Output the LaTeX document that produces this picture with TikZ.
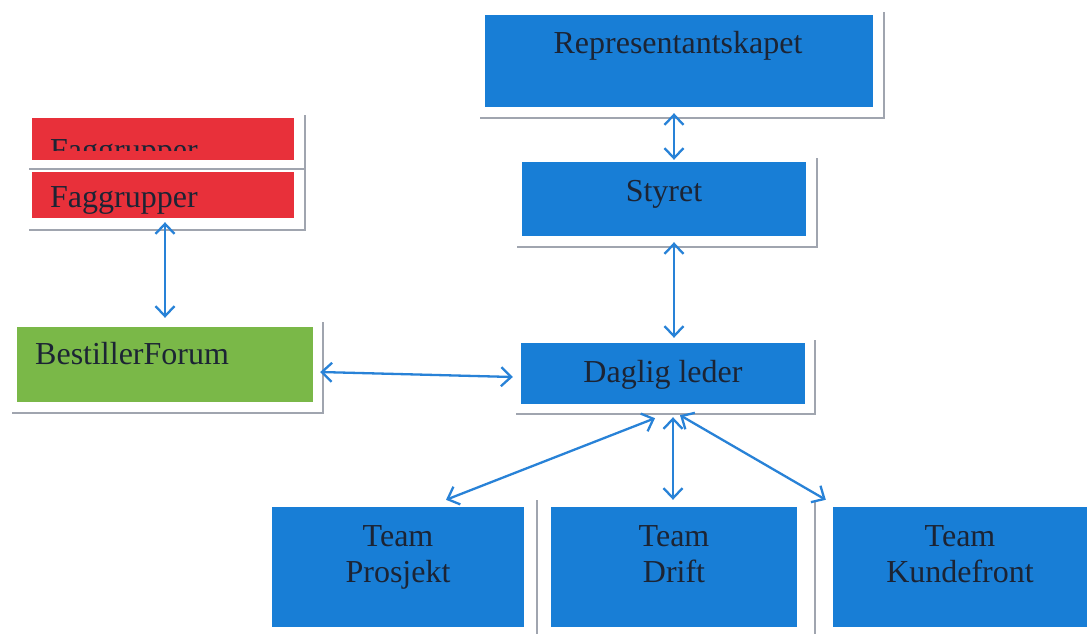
\documentclass[tikz,border=0pt]{standalone}
\usepackage{fontspec}
\setmainfont{Liberation Serif}
\usetikzlibrary{arrows.meta}
\definecolor{boxblue}{RGB}{24,126,214}
\definecolor{boxred}{RGB}{232,48,58}
\definecolor{boxgreen}{RGB}{122,184,72}
\definecolor{arrowblue}{RGB}{40,130,215}
\definecolor{txt}{RGB}{28,36,52}
\definecolor{shadowgray}{RGB}{160,165,175}
\begin{document}
\begin{tikzpicture}[x=1pt,y=-1pt,
  box/.style={rectangle, draw=none, inner sep=0pt},
  lbl/.style={text=txt, font=\fontsize{32}{36}\selectfont, inner sep=0pt, align=center},
  link/.style={draw=arrowblue, line width=2.3pt, {Straight Barb[length=10pt,width=19pt]}-{Straight Barb[length=10pt,width=19pt]}},
  shadowline/.style={draw=shadowgray, line width=1.5pt}]
\useasboundingbox[fill=white] (0,0) rectangle (1087,634);

% shadows
\draw[shadowline] (480,118) -- (884,118) -- (884,12);
\draw[shadowline] (517,247) -- (817,247) -- (817,158);
\draw[shadowline] (516,414) -- (815,414) -- (815,340);
\draw[shadowline] (537,500) -- (537,634);
\draw[shadowline] (815,500) -- (815,634);
\draw[shadowline] (29,169) -- (305,169);
\draw[shadowline] (29,230) -- (305,230) -- (305,115);
\draw[shadowline] (12,413) -- (323,413) -- (323,322);

% boxes
\node[box, fill=boxblue, minimum width=388pt, minimum height=92pt] (repr) at (679,61) {};
\node[box, fill=boxblue, minimum width=284pt, minimum height=74pt] (styret) at (664,199) {};
\node[box, fill=boxblue, minimum width=284pt, minimum height=61pt] (daglig) at (663,373.5) {};
\node[box, fill=boxblue, minimum width=252pt, minimum height=120pt] (teamP) at (398,567) {};
\node[box, fill=boxblue, minimum width=246pt, minimum height=120pt] (teamD) at (674,567) {};
\node[box, fill=boxblue, minimum width=254pt, minimum height=120pt] (teamK) at (960,567) {};
\node[box, fill=boxred, minimum width=262pt, minimum height=42pt] (fag1) at (163,139) {};
\node[box, fill=boxred, minimum width=262pt, minimum height=46pt] (fag2) at (163,195) {};
\node[box, fill=boxgreen, minimum width=296pt, minimum height=75pt] (best) at (165,364.5) {};

% labels
\node[lbl, anchor=base] (reprT) at (678,54) {Representantskapet};
\node[lbl, anchor=base] (styretT) at (664,201) {Styret};
\node[lbl, anchor=base] (dagligT) at (663,382) {Daglig leder};
\node[lbl, anchor=north] (teamPT) at (398,525) {Team\\Prosjekt};
\node[lbl, anchor=north] (teamDT) at (674,525) {Team\\Drift};
\node[lbl, anchor=north] (teamKT) at (960,525) {Team\\Kundefront};
\begin{scope}
  \clip (32,118) rectangle (294,150);
  \node[lbl, anchor=base west] (fag1T) at (50,160) {Faggrupper};
\end{scope}
\node[lbl, anchor=base west] (fag2T) at (50,207) {Faggrupper};
\node[lbl, anchor=base west] (bestT) at (35,364) {BestillerForum};

% connectors
\draw[link] ([xshift=-5pt,yshift=-6pt]repr.south) -- ([xshift=10pt,yshift=2pt]styret.north);
\draw[link] ([xshift=10pt,yshift=-6pt]styret.south) -- ([xshift=11pt,yshift=5pt]daglig.north);
\draw[link] ([xshift=2pt,yshift=-4pt]fag2.south) -- ([yshift=9pt]best.north);
\draw[link] ([xshift=7pt,yshift=-7.5pt]best.east) -- ([xshift=-8pt,yshift=-3.5pt]daglig.west);
\draw[link] ([xshift=-8pt,yshift=-14pt]daglig.south) -- ([xshift=48pt,yshift=7pt]teamP.north);
\draw[link] ([xshift=10pt,yshift=-13pt]daglig.south) -- ([xshift=-1pt,yshift=7pt]teamD.north);
\draw[link] ([xshift=17pt,yshift=-11pt]daglig.south) -- ([xshift=-7pt,yshift=7pt]teamK.north west);
\end{tikzpicture}
\end{document}
